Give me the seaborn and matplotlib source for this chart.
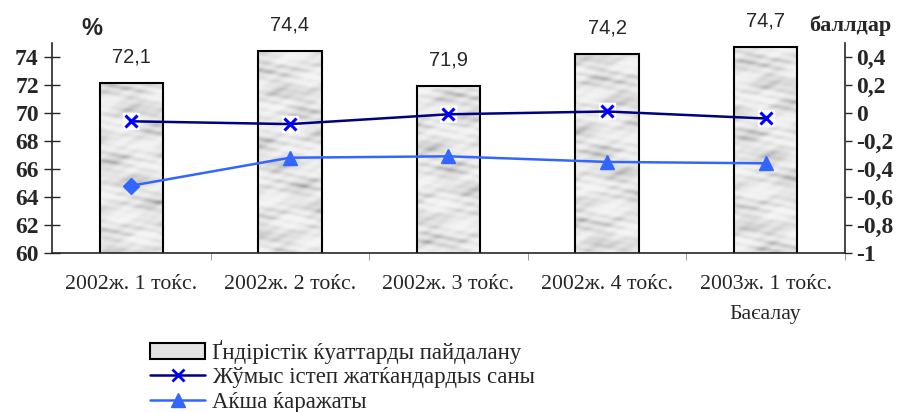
import numpy as np
import pandas as pd
import matplotlib
matplotlib.use("Agg")
import matplotlib.pyplot as plt
from matplotlib.lines import Line2D
from matplotlib.patches import Patch
import seaborn as sns

# chart data
quarters = ["2002ж. 1 тоќс.", "2002ж. 2 тоќс.", "2002ж. 3 тоќс.",
            "2002ж. 4 тоќс.", "2003ж. 1 тоќс.\nБаєалау"]
capacity_use = [72.1, 74.4, 71.9, 74.2, 74.7]        # % (left axis)
employed = [-0.06, -0.08, -0.01, 0.01, -0.04]        # балл (right axis)
money = [-0.52, -0.32, -0.31, -0.35, -0.36]          # балл (right axis)

left_ticks = [60, 62, 64, 66, 68, 70, 72, 74]
right_ticks = [-1, -0.8, -0.6, -0.4, -0.2, 0, 0.2, 0.4]

legend_labels = ["Ґндірістік ќуаттарды пайдалану",
                 "Жўмыс істеп жатќандардыѕ саны",
                 "Аќша ќаражаты"]

sns.set_style("ticks")
plt.rcParams["font.family"] = ["Liberation Serif", "DejaVu Serif"]

df = pd.DataFrame({"quarter": quarters, "capacity": capacity_use})

fig = plt.figure(figsize=(9.01, 4.12), dpi=100)
ax = fig.add_axes([0.0577, 0.386, 0.880, 0.510])

sns.barplot(data=df, x="quarter", y="capacity", ax=ax, width=0.4,
            color="#dedede", edgecolor="black", linewidth=1.5, saturation=1)

# marble-ish texture clipped to each bar (deterministic pattern, decoration only)
gx, gy = np.meshgrid(np.linspace(0, 60, 400), np.linspace(0, 40, 400))
tex = (np.sin(gx * 0.7 + gy * 0.5) * np.cos(gy * 0.9 - gx * 0.3)
       + 0.6 * np.sin(gx * 1.9 - gy * 1.3 + 1.0) * np.sin(gy * 2.1 + 0.5)
       + 0.4 * np.sin(gx * 3.7 + gy * 2.9) * np.cos(gx * 1.1)
       + 0.3 * np.cos(gy * 4.3 - gx * 2.2))
tex = (tex - tex.min()) / (tex.max() - tex.min())
tex = tex ** 2.0
for bar in ax.patches:
    im = ax.imshow(tex, cmap="Greys", vmin=-0.2, vmax=2.3, aspect="auto",
                   extent=[-0.5, 4.5, 60, 75], zorder=bar.get_zorder() + 0.1,
                   interpolation="bilinear")
    im.set_clip_path(bar)
    bar.set_facecolor("none")
    bar.set_zorder(bar.get_zorder() + 0.2)

ax.set_xlim(-0.5, 4.5)
ax.set_ylim(60, 75)
ax.set_yticks(left_ticks)
ax.set_xlabel("")
ax.set_ylabel("")
ax.tick_params(axis="y", direction="inout", length=11, width=1,
               labelsize=17, pad=4)
for t in ax.get_yticklabels():
    t.set_fontweight("bold")
ax.tick_params(axis="x", length=0, labelsize=15.7, pad=16)
ax.set_xticks(np.arange(len(quarters)) + 0.5, minor=True)
ax.tick_params(axis="x", which="minor", direction="out", length=5, width=0.6,
               color="#888888")
for t in ax.get_xticklabels():
    t.set_linespacing(1.8)

ax.bar_label(ax.containers[0],
             labels=[f"{v:.1f}".replace(".", ",") for v in capacity_use],
             padding=12, fontsize=14.5, family="Liberation Sans")

for s in ["top", "right"]:
    ax.spines[s].set_visible(False)
ax.spines["left"].set_linewidth(1.2)
ax.spines["bottom"].set_linewidth(1.2)

# right axis with the two index lines
ax2 = ax.twinx()
ax2.set_ylim(-1, 0.5)
ax2.set_yticks(right_ticks)
ax2.set_yticklabels([("%g" % v).replace(".", ",") for v in right_ticks],
                    fontweight="bold")
ax2.tick_params(axis="y", direction="out", length=5, width=1,
                labelsize=17, pad=3)
for s in ["top", "left", "bottom"]:
    ax2.spines[s].set_visible(False)
ax2.spines["right"].set_linewidth(1.2)

xpos = np.arange(len(quarters))
ax2.plot(xpos, employed, color="white", marker="s", ms=11, lw=0, zorder=3)
sns.lineplot(x=xpos, y=employed, ax=ax2, color="#000080", lw=1.8,
             zorder=4, legend=False)
ax2.plot(xpos, employed, lw=0, marker="x", ms=9, mew=2.2,
         color="#0000ff", zorder=5)

sns.lineplot(x=xpos, y=money, ax=ax2, color="#3366ff", lw=1.8,
             zorder=4, legend=False)
ax2.plot(xpos[1:], money[1:], lw=0, marker="^", ms=10,
         color="#3366ff", zorder=5)
ax2.plot(xpos[:1], money[:1], lw=0, marker="D", ms=8,
         color="#3366ff", zorder=5)
ax2.set_xlim(-0.5, 4.5)
ax2.set_ylabel("")

fig.text(0.102, 0.932, "%", fontsize=17, fontweight="bold",
         family="Liberation Sans", ha="center", va="center")
fig.text(0.944, 0.937, "баллдар", fontsize=16, fontweight="bold",
         ha="center", va="center")

handles = [
    Patch(facecolor="#e4e4e4", edgecolor="black", linewidth=1.5),
    Line2D([], [], color="#000080", lw=1.8, marker="x", ms=9, mew=2,
           markeredgecolor="#0000ff"),
    Line2D([], [], color="#3366ff", lw=1.8, marker="^", ms=10),
]
fig.legend(handles, legend_labels, loc="upper left",
           bbox_to_anchor=(0.1665, 0.175), frameon=False,
           prop={"family": ["Liberation Serif", "DejaVu Serif"], "size": 16.5},
           handlelength=2.4, handletextpad=0.3,
           labelspacing=0.15, borderaxespad=0, borderpad=0)

fig.savefig("out.png", dpi=100)
